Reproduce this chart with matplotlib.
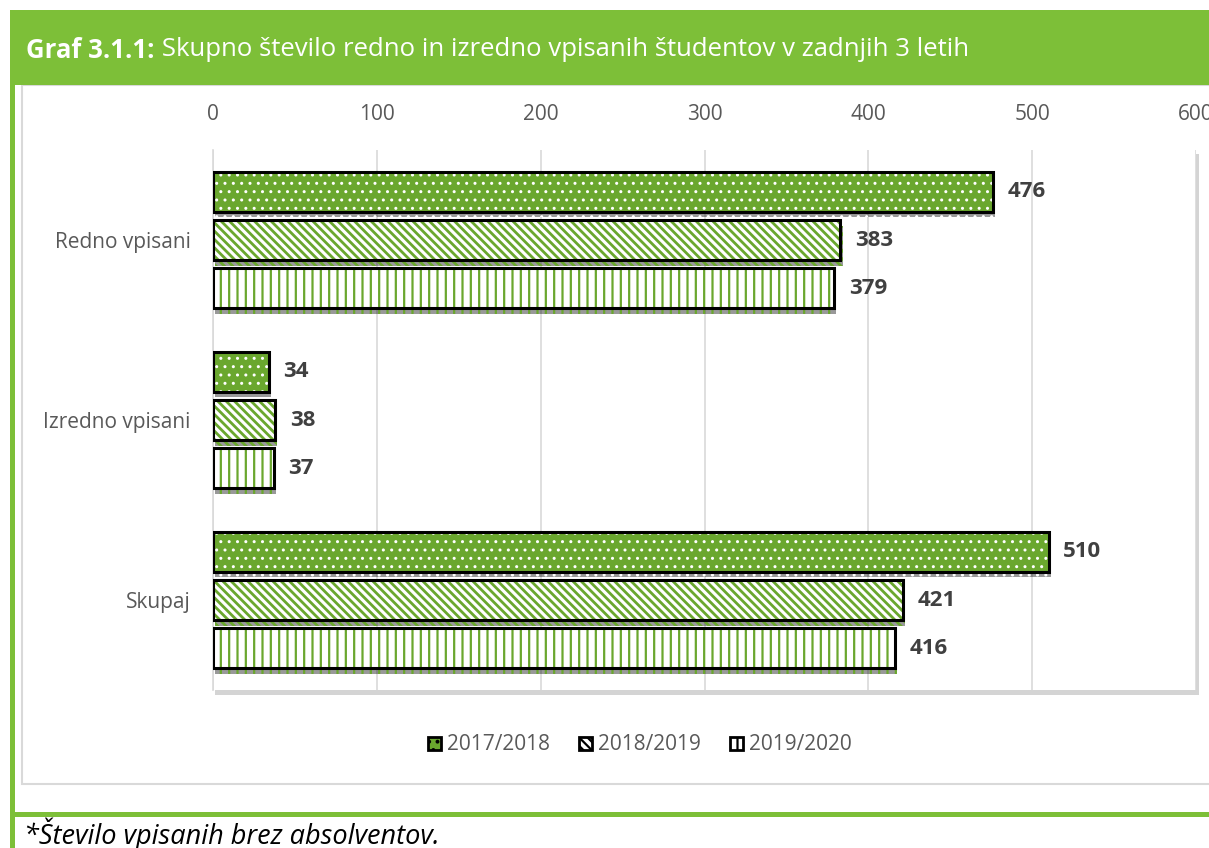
import matplotlib
matplotlib.use("Agg")
import matplotlib.pyplot as plt
from matplotlib.patches import Rectangle, Patch
import matplotlib.patheffects as pe
import numpy as np

# ---- data ----
categories = ["Redno vpisani", "Izredno vpisani", "Skupaj"]
series_names = ["2017/2018", "2018/2019", "2019/2020"]
values_2017 = [476, 34, 510]
values_2018 = [383, 38, 421]
values_2019 = [379, 37, 416]
x_ticks = [0, 100, 200, 300, 400, 500, 600]
title_bold = "Graf 3.1.1:"
title_rest = " Skupno število redno in izredno vpisanih študentov v zadnjih 3 letih"
footnote = "*Število vpisanih brez absolventov."

W, H = 1209, 848
GREEN = "#7dbf38"
BAR_GREEN = "#6aa72e"
TXT = "#595959"
FONT = "Open Sans"

plt.rcParams["font.family"] = [FONT, "DejaVu Sans"]
plt.rcParams["hatch.linewidth"] = 1.6

fig = plt.figure(figsize=(W / 100, H / 100), dpi=100)

def fx(x):
    return x / W

def fy(y):
    return 1 - y / H

def frect(x0, y0, x1, y1, **kw):
    r = Rectangle((fx(x0), fy(y1)), fx(x1) - fx(x0), fy(y0) - fy(y1),
                  transform=fig.transFigure, **kw)
    fig.patches.append(r)
    return r

# frame
frect(22, 85, 1215, 784, facecolor="white", edgecolor="#d9d9d9", lw=1.5, zorder=0)
frect(10, 10, 15, 848, facecolor=GREEN, edgecolor="none", zorder=1)
frect(10, 10, 1209, 85, facecolor=GREEN, edgecolor="none", zorder=1)
frect(10, 812, 1209, 817, facecolor=GREEN, edgecolor="none", zorder=1)

# title
TS = 18.5
t1 = fig.text(fx(26), fy(50), title_bold, color="white", fontsize=TS,
              fontweight="bold", va="center", ha="left")
fig.canvas.draw()
bb = t1.get_window_extent(renderer=fig.canvas.get_renderer())
fig.text(bb.x1 / W, fy(50), title_rest, color="white", fontsize=TS,
         va="center", ha="left")

# footnote
fig.text(fx(24), fy(834), footnote, color="black", fontsize=19.5, style="italic",
         va="center", ha="left")

# plot area
px0, px1, py0, py1 = 213, 1196, 150, 690
frect(px0 + 2, py0 + 4, px1 + 3, py1 + 5, facecolor="#b8b8b8", edgecolor="none",
      zorder=1.5, alpha=0.6)
ax = fig.add_axes([fx(px0), fy(py1), fx(px1) - fx(px0), fy(py0) - fy(py1)])
ax.set_zorder(2)
ax.set_facecolor("white")

y = np.arange(len(categories))
step = 0.267
hgt = 0.222
styles = [
    dict(facecolor=BAR_GREEN, edgecolor="white", hatch=".."),
    dict(facecolor="white", edgecolor=BAR_GREEN, hatch="\\\\\\\\"),
    dict(facecolor="white", edgecolor=BAR_GREEN, hatch="||"),
]
hatch_lw = [1.0, 2.0, 1.6]
all_vals = [values_2017, values_2018, values_2019]
for i, (vals, st) in enumerate(zip(all_vals, styles)):
    pos = y + (i - 1) * step
    with plt.rc_context({"hatch.linewidth": hatch_lw[i]}):
        ax.barh(pos, vals, height=hgt, linewidth=0, zorder=3,
                path_effects=[pe.SimplePatchShadow(offset=(1.5, -4), shadow_rgbFace="black",
                                                   alpha=0.4), pe.Normal()], **st)
    ax.barh(pos, vals, height=hgt, facecolor="none", edgecolor="black",
            linewidth=2.2, zorder=4)
    for p, v in zip(pos, vals):
        ax.text(v + 9, p, str(v), va="center", ha="left", fontsize=16,
                fontweight="bold", color="#404040", zorder=5)

ax.set_xlim(0, 600)
ax.set_ylim(2.5, -0.5)
ax.set_xticks(x_ticks)
ax.xaxis.tick_top()
ax.tick_params(axis="x", length=0, pad=18, labelsize=15, labelcolor=TXT)
ax.set_yticks(y)
ax.set_yticklabels(categories)
ax.tick_params(axis="y", length=0, pad=16, labelsize=15, labelcolor=TXT)
ax.grid(axis="x", color="#d9d9d9", linewidth=1.2, zorder=0)
ax.set_axisbelow(True)
for s in ["top", "right", "bottom"]:
    ax.spines[s].set_visible(False)
ax.spines["left"].set_color("#d9d9d9")
ax.spines["left"].set_linewidth(1.2)

# legend
handles = [Patch(label=n, linewidth=2.0, **{**st, "edgecolor": "black"})
           for n, st in zip(series_names, styles)]
leg = fig.legend(handles=handles, loc="center", bbox_to_anchor=(fx(640), fy(745)),
                 ncol=3, frameon=False, fontsize=15, handlelength=0.6, handleheight=0.6,
                 handletextpad=0.3, columnspacing=1.4, labelcolor=TXT)

fig.savefig("out.png", dpi=100)
